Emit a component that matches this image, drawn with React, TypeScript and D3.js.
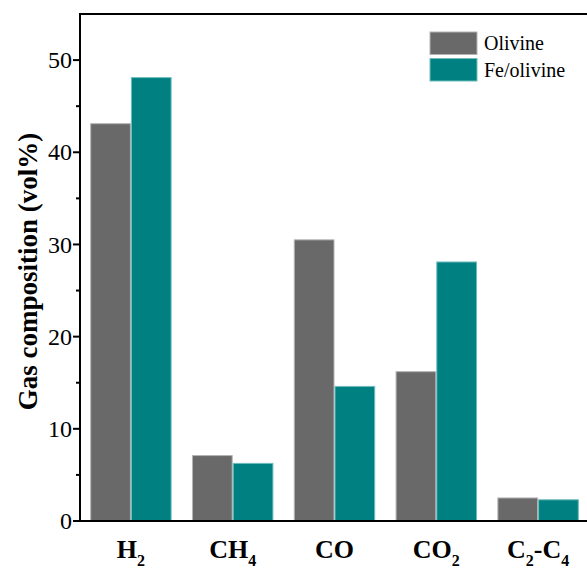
import React from "react";
import * as d3 from "d3";

const categories = ["H2", "CH4", "CO", "CO2", "C2-C4"];
const olivine = [43.1, 7.1, 30.5, 16.2, 2.5];
const feOlivine = [48.1, 6.25, 14.6, 28.1, 2.3];
const seriesNames = ["Olivine", "Fe/olivine"];
const yTicks = [0, 10, 20, 30, 40, 50];
const yMinorTicks = [5, 15, 25, 35, 45];

const W = 587;
const H = 569;
const M = { left: 80, top: 14, right: 589, bottom: 521 };
const FONT = "'Liberation Serif', 'Times New Roman', serif";
const colors = ["#696969", "#008080"];
const strokes = ["#b4b4b4", "#6fbdbd"];

function XLabel({ cat, x }: { cat: string; x: number }) {
  const y = 558;
  const sub = { fontSize: 16, dy: 8 };
  let parts: React.ReactNode;
  if (cat === "H2") {
    parts = (
      <>
        <tspan>H</tspan>
        <tspan fontSize={sub.fontSize} dy={sub.dy}>2</tspan>
      </>
    );
  } else if (cat === "CH4") {
    parts = (
      <>
        <tspan>CH</tspan>
        <tspan fontSize={sub.fontSize} dy={sub.dy}>4</tspan>
      </>
    );
  } else if (cat === "CO2") {
    parts = (
      <>
        <tspan>CO</tspan>
        <tspan fontSize={sub.fontSize} dy={sub.dy}>2</tspan>
      </>
    );
  } else if (cat === "C2-C4") {
    parts = (
      <>
        <tspan>C</tspan>
        <tspan fontSize={sub.fontSize} dy={sub.dy}>2</tspan>
        <tspan dy={-sub.dy}>-C</tspan>
        <tspan fontSize={sub.fontSize} dy={sub.dy}>4</tspan>
      </>
    );
  } else {
    parts = <tspan>{cat}</tspan>;
  }
  return (
    <text x={x} y={y} textAnchor="middle" fontFamily={FONT} fontWeight="bold" fontSize={26} fill="#000">
      {parts}
    </text>
  );
}

export default function App() {
  const x = d3
    .scaleBand<string>()
    .domain(categories)
    .range([M.left, M.right])
    .paddingInner(0.2)
    .paddingOuter(0.1);
  const y = d3.scaleLinear().domain([0, 55]).range([M.bottom, M.top]);
  const bw = x.bandwidth() / 2;
  const series = [olivine, feOlivine];

  return (
    <svg width={W} height={H} style={{ position: "absolute", left: 0, top: 0, background: "#fff" }}>
      <rect x={0} y={0} width={W} height={H} fill="#fff" />
      {series.map((vals, si) =>
        categories.map((c, i) => (
          <rect
            key={`${si}-${c}`}
            x={(x(c) as number) + si * bw + 0.5}
            y={y(vals[i])}
            width={bw - 1}
            height={y(0) - y(vals[i])}
            fill={colors[si]}
            stroke={strokes[si]}
            strokeWidth={1}
          />
        ))
      )}
      {/* axes */}
      <line x1={M.left} x2={W + 5} y1={M.bottom} y2={M.bottom} stroke="#000" strokeWidth={2} />
      <line x1={M.left} x2={W + 5} y1={M.top} y2={M.top} stroke="#000" strokeWidth={2} />
      <line x1={M.left} x2={M.left} y1={M.top - 1} y2={M.bottom + 1} stroke="#000" strokeWidth={2} />
      {yTicks.map((t) => (
        <g key={t}>
          <line x1={M.left - 7} x2={M.left} y1={y(t)} y2={y(t)} stroke="#000" strokeWidth={2} />
          <text
            x={M.left - 8}
            y={y(t)}
            dy="0.34em"
            textAnchor="end"
            fontFamily={FONT}
            fontSize={24}
            fill="#000"
          >
            {t}
          </text>
        </g>
      ))}
      {yMinorTicks.map((t) => (
        <line key={t} x1={M.left - 4} x2={M.left} y1={y(t)} y2={y(t)} stroke="#000" strokeWidth={2} />
      ))}
      {categories.map((c) => (
        <XLabel key={c} cat={c} x={(x(c) as number) + x.bandwidth() / 2} />
      ))}
      <text
        transform={`translate(37, ${(M.top + M.bottom) / 2 + 4}) rotate(-90)`}
        textAnchor="middle"
        fontFamily={FONT}
        fontWeight="bold"
        fontSize={27}
        fill="#000"
      >
        Gas composition (vol%)
      </text>
      {/* legend */}
      {seriesNames.map((n, i) => (
        <g key={n}>
          <rect x={430} y={32 + i * 26.5} width={47} height={22.5} fill={colors[i]} stroke={strokes[i]} strokeWidth={1} />
          <text x={484} y={50 + i * 26.5} fontFamily={FONT} fontSize={20} fill="#000">
            {n}
          </text>
        </g>
      ))}
    </svg>
  );
}
